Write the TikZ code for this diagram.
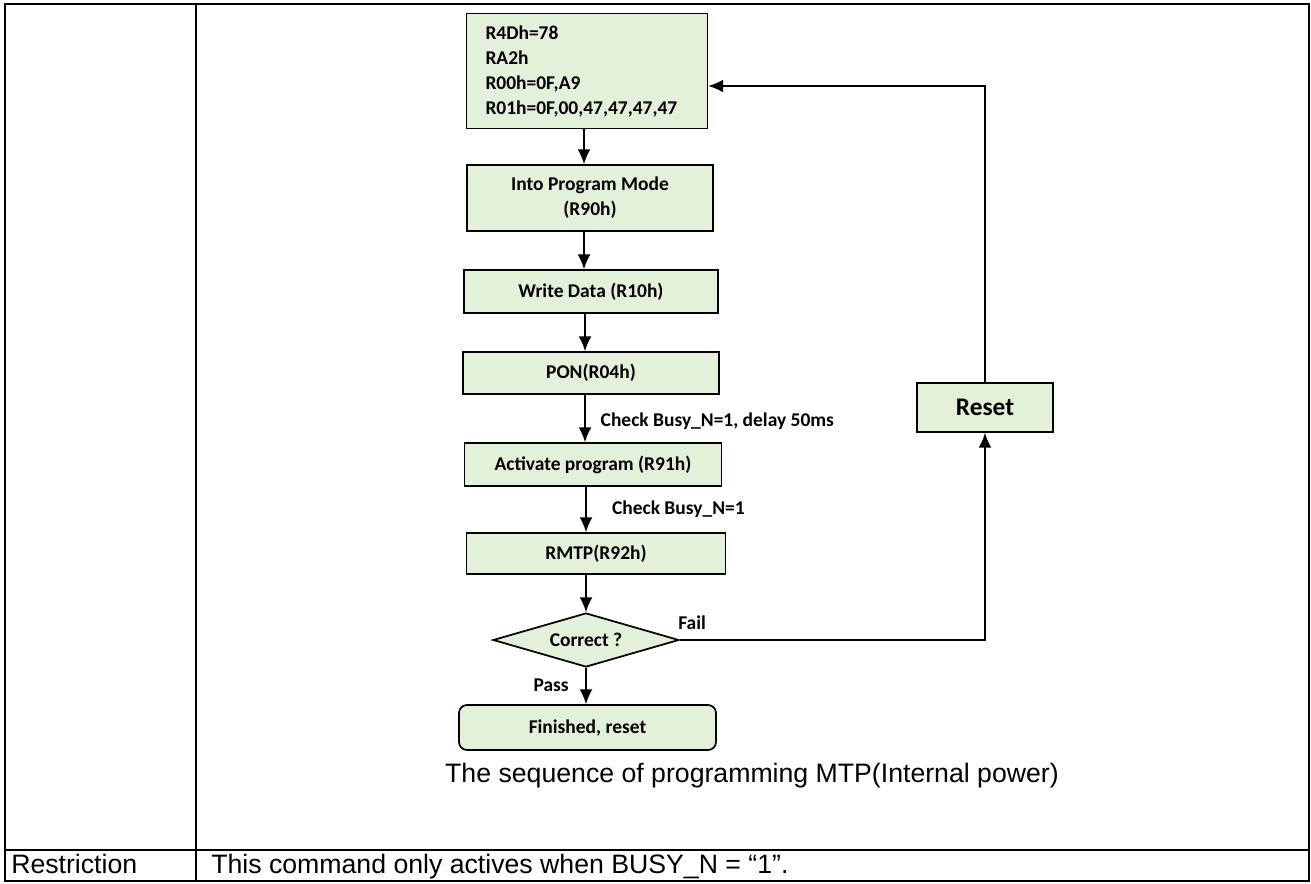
\documentclass[tikz,border=0pt]{standalone}
\usepackage{fontspec}
\setmainfont{Liberation Sans}
\newfontfamily\flowfont{Carlito}
\usetikzlibrary{shapes.geometric,arrows.meta}
\definecolor{boxgreen}{RGB}{227,240,218}
\tikzset{
  tbl/.style={line width=1.7pt, draw=black},
  fbox/.style={draw=black, line width=1.3pt, fill=boxgreen, inner sep=0pt,
    font=\flowfont\bfseries\fontsize{14.6}{18.75}\selectfont, align=center},
  fdia/.style={fbox, shape=diamond, shape aspect=3.44},
  arr/.style={line width=1.1pt, -{Latex[length=11pt,width=9.5pt]}},
  lbl/.style={font=\flowfont\bfseries\fontsize{14.6}{18.4}\selectfont, inner sep=0pt},
  body/.style={font=\fontsize{20}{24}\selectfont, inner sep=0pt}
}
\begin{document}
\begin{tikzpicture}[x=0.75pt,y=-0.75pt]
\useasboundingbox (0,0) rectangle (1311,883);
% table
\draw[tbl] (5,4) rectangle (1309,881);
\draw[tbl] (196,4) -- (196,881);
\draw[tbl] (5,850) -- (1309,850);
% flowchart
\node[fbox, minimum width=180.75pt, minimum height=86.25pt, text width=152.25pt, inner xsep=14.25pt, align=left] (b1) at (587,71)
  {R4Dh=78\\RA2h\\R00h=0F,A9\\R01h=0F,00,47,47,47,47};
\node[fbox, minimum width=184.5pt, minimum height=49.5pt] (b2) at (590,198) {Into Program Mode\\(R90h)};
\node[fbox, minimum width=190.5pt, minimum height=32.25pt] (b3) at (591,291.5) {Write Data (R10h)};
\node[fbox, minimum width=192pt, minimum height=31.5pt] (b4) at (591,373) {PON(R04h)};
\node[fbox, minimum width=192.75pt, minimum height=32.25pt] (b5) at (593,464.5) {Activate program (R91h)};
\node[fbox, minimum width=194.25pt, minimum height=30.75pt] (b6) at (596,553.5) {RMTP(R92h)};
\node[fdia, minimum width=139.5pt, minimum height=40.5pt] (dia) at (586,640) {Correct ?};
\node[fbox, rounded corners=6pt, minimum width=192.75pt, minimum height=33.75pt] (fin) at (587.5,727.5) {Finished, reset};
\node[fbox, minimum width=102pt, minimum height=36.75pt, font=\flowfont\bfseries\fontsize{19}{22}\selectfont] (reset) at (985,407.5) {Reset};
% connectors
\draw[arr] (b1.south -| 584,0) -- (b2.north -| 584,0);
\draw[arr] (b2.south -| 584,0) -- (b3.north -| 584,0);
\draw[arr] (b3.south -| 585,0) -- (b4.north -| 585,0);
\draw[arr] (b4.south -| 585,0) -- node[lbl, anchor=west, xshift=11.25pt, yshift=-2pt] {Check Busy\_N=1, delay 50ms} (b5.north -| 585,0);
\draw[arr] (b5.south -| 586,0) -- node[lbl, anchor=west, xshift=19pt] {Check Busy\_N=1} (b6.north -| 586,0);
\draw[arr] (b6.south -| 586,0) -- (dia.north);
\draw[arr] (dia.south) -- (fin.north -| dia.south);
\node[lbl, anchor=east] (pass) at (569,685) {Pass};
\node[lbl, anchor=west] (fail) at (678,623) {Fail};
\coordinate (rt) at (0,86);
\draw[arr] (dia.east) -| (reset.south);
\draw[arr] (reset.north) |- (b1.east |- rt);
% texts
\node[body, anchor=base] (cap) at (752,782) {The sequence of programming MTP(Internal power)};
\node[body, anchor=base west] (restr) at (11,873) {Restriction};
\node[body, anchor=base west] (cmd) at (211,873) {This command only actives when BUSY\_N = “1”.};
\end{tikzpicture}
\end{document}
